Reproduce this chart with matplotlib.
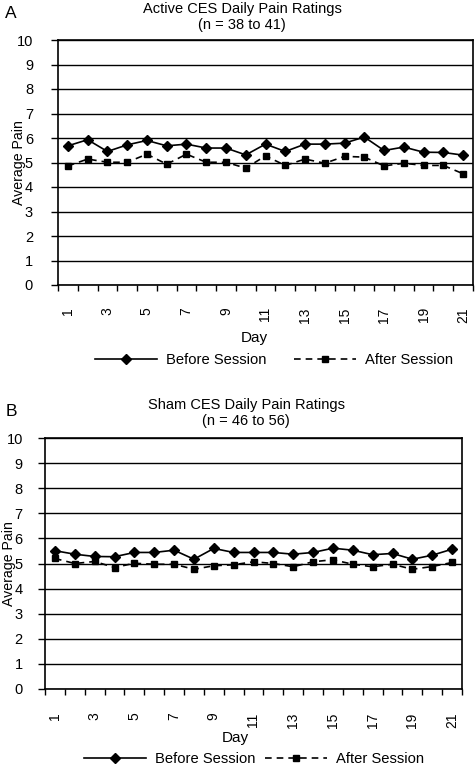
import matplotlib
matplotlib.use("Agg")
import matplotlib.pyplot as plt
import numpy as np

plt.rcParams['font.family'] = ['Liberation Sans', 'DejaVu Sans']

days = list(range(1, 22))
tick_labels = [str(d) for d in range(1, 22, 2)]

active_before = [5.68, 5.93, 5.45, 5.72, 5.90, 5.68, 5.75, 5.59, 5.59, 5.31, 5.75,
                 5.45, 5.75, 5.75, 5.79, 6.04, 5.49, 5.63, 5.42, 5.41, 5.30]
active_after = [4.86, 5.14, 5.01, 5.01, 5.34, 4.93, 5.34, 5.01, 5.01, 4.77, 5.27,
                4.88, 5.14, 4.97, 5.25, 5.22, 4.86, 4.97, 4.88, 4.88, 4.54]
sham_before = [5.51, 5.37, 5.28, 5.27, 5.44, 5.44, 5.53, 5.17, 5.60, 5.44, 5.44,
               5.44, 5.37, 5.44, 5.61, 5.53, 5.35, 5.40, 5.17, 5.33, 5.57]
sham_after = [5.20, 5.00, 5.08, 4.84, 5.01, 4.97, 4.97, 4.77, 4.91, 4.95, 5.07,
              5.00, 4.87, 5.07, 5.15, 4.97, 4.87, 4.97, 4.77, 4.88, 5.04]

W, H = 476, 766
fig = plt.figure(figsize=(W / 100, H / 100), dpi=100)


def make_panel(rect, before, after, letter, title, letter_xy, title_xy,
               ylabel_x, legend_xy, colspace, day_xy, ypad, xpad):
    l, t, r, b = rect
    ax = fig.add_axes([l / W, 1 - b / H, (r - l) / W, (b - t) / H])
    x = np.array(days)
    ax.plot(x, before, color='black', lw=1.2, marker='D', ms=5.5, label='Before Session')
    ax.plot(x, after, color='black', lw=1.2, ls=(0, (4, 3)), marker='s', ms=5,
            label='After Session')
    ax.set_xlim(0.5, 21.5)
    ax.set_ylim(0, 10)
    ax.set_yticks(range(0, 11))
    ax.yaxis.grid(True, color='black', lw=1.0)
    ax.set_axisbelow(True)
    ax.set_xticks(np.arange(0.5, 22, 1), minor=True)
    ax.set_xticks(range(1, 22, 2))
    ax.set_xticklabels(tick_labels, rotation=90, fontsize=10)
    ax.tick_params(axis='x', which='major', length=0, pad=xpad)
    ax.tick_params(axis='x', which='minor', length=4, width=1, direction='out')
    ax.tick_params(axis='y', length=5, width=1, direction='out', labelsize=10.5, pad=ypad)
    for s in ax.spines.values():
        s.set_linewidth(1.2)
    fig.text(ylabel_x / W, 1 - ((t + b) / 2) / H, 'Average Pain', rotation=90,
             ha='center', va='center', fontsize=10.2)
    fig.text(letter_xy[0] / W, 1 - letter_xy[1] / H, letter, ha='left', va='center',
             fontsize=12.5)
    fig.text(title_xy[0] / W, 1 - title_xy[1] / H, title[0], ha='center', va='center',
             fontsize=10.5)
    fig.text(title_xy[0] / W, 1 - (title_xy[1] + 16) / H, title[1], ha='center',
             va='center', fontsize=10.5)
    fig.text(day_xy[0] / W, 1 - day_xy[1] / H, 'Day', ha='center', va='center',
             fontsize=11)
    fig.legend(handles=ax.get_lines(), loc='center',
               bbox_to_anchor=(legend_xy[0] / W, 1 - legend_xy[1] / H), ncol=2,
               frameon=False, fontsize=10.6, handlelength=4.2,
               columnspacing=colspace, handletextpad=0.6)
    return ax


make_panel((58, 40, 473, 285), active_before, active_after, 'A',
           ('Active CES Daily Pain Ratings', '(n = 38 to 41)'),
           (5, 14), (242, 9), 19, (274, 360), 1.9, (254, 338), 13, 16)
make_panel((45, 438, 462, 689), sham_before, sham_after, 'B',
           ('Sham CES Daily Pain Ratings', '(n = 46 to 56)'),
           (6, 412), (246, 405), 9, (254, 759), 0.7, (235, 738), 11, 17)

fig.savefig('out.png', dpi=100)
